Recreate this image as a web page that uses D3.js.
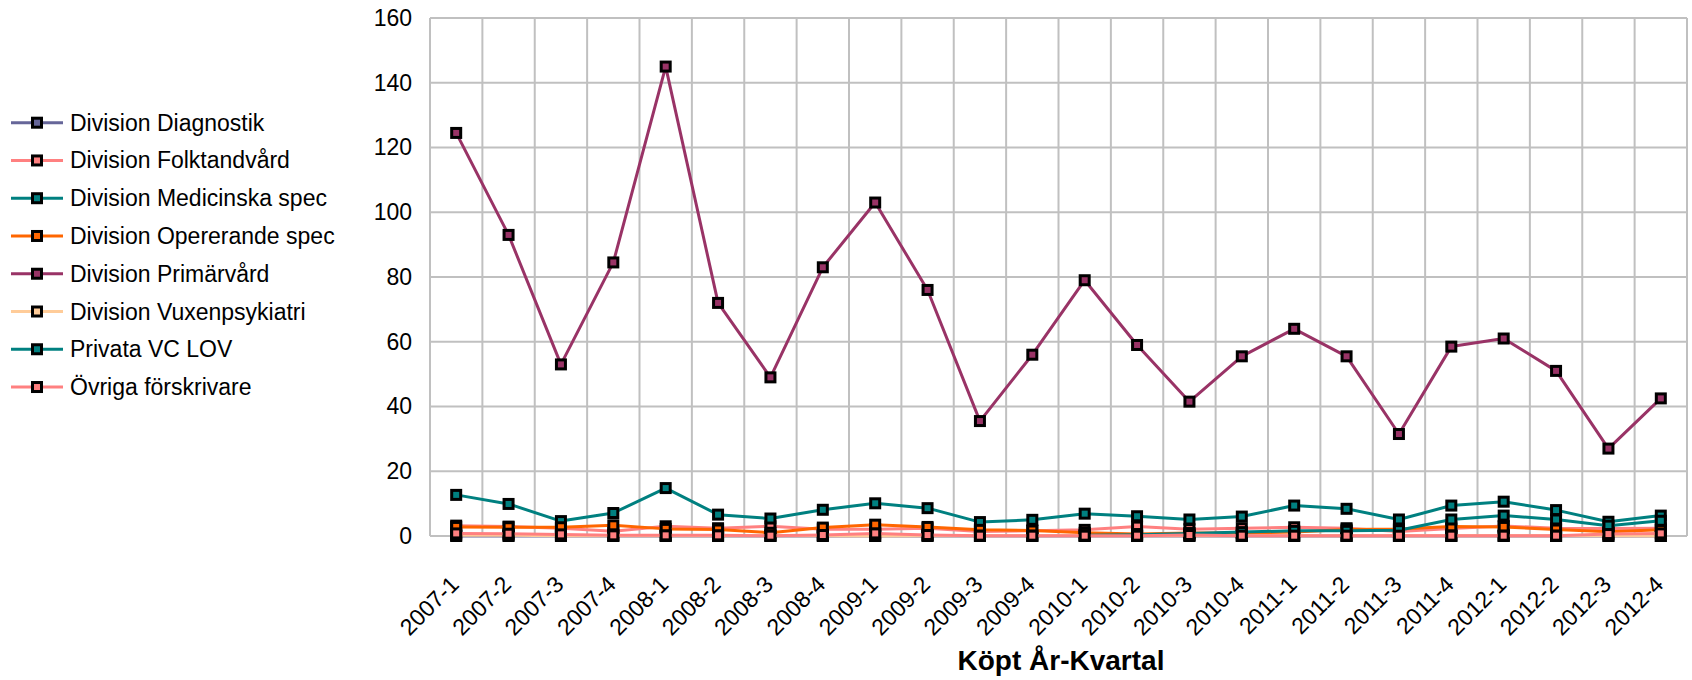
<!DOCTYPE html>
<html>
<head>
<meta charset="utf-8">
<script src="https://cdn.jsdelivr.net/npm/d3@7"></script>
<style>
  html, body { margin: 0; padding: 0; background: #fff; }
  svg { display: block; font-family: "Liberation Sans", Arial, sans-serif; }
</style>
</head>
<body>
<svg id="chart" width="1692" height="680"></svg>
<script>
const categories = ["2007-1","2007-2","2007-3","2007-4","2008-1","2008-2","2008-3","2008-4",
  "2009-1","2009-2","2009-3","2009-4","2010-1","2010-2","2010-3","2010-4",
  "2011-1","2011-2","2011-3","2011-4","2012-1","2012-2","2012-3","2012-4"];

const diagnostik   = [0,0,0,0,0,0,0,0,0,0,0,0,0,0,0,0,0,0,0,0,0,0,0,0];
const folktandvard = [3.2,2.9,2.4,1.5,3.0,2.4,3.0,2.1,2.1,2.4,1.4,1.6,1.9,2.9,2.1,2.4,2.7,2.4,1.4,2.3,3.1,2.4,2.3,2.4];
const medicinska   = [12.7,9.9,4.6,7.1,14.8,6.6,5.4,8.1,10.1,8.6,4.3,5.0,6.9,6.1,5.1,6.0,9.4,8.4,5.1,9.4,10.6,8.0,4.4,6.3];
const opererande   = [2.8,2.7,2.7,3.3,2.2,2.0,1.0,2.6,3.5,2.8,1.9,1.7,1.0,0.6,0.9,0.9,1.2,2.0,2.2,2.9,2.8,2.0,1.3,1.9];
const primarvard   = [124.5,93,53,84.5,145,72,49,83,103,76,35.5,56,79,59,41.5,55.5,64,55.5,31.5,58.5,61,51,27,42.5];
const vuxenpsyk    = [0.2,0.2,0.1,0.1,0.1,0.1,0.1,0.1,0,0.1,0.1,0.1,0.1,0.1,0.1,0.1,0.1,0.1,0.1,0.1,0.1,0.1,0.1,0];
const privataLOV   = [null,null,null,null,null,null,null,null,null,null,null,null,0.2,0.4,0.8,1.2,1.6,1.6,1.8,5.1,6.3,5.1,3.2,4.7];
const ovriga       = [0.8,0.7,0.5,0.2,0.2,0.2,0.1,0.3,0.8,0.3,0.1,0.1,0.1,0.1,0.3,0.1,0.1,0.1,0.1,0.1,0.1,0.1,0.6,0.8];

const seriesNames  = ["Division Diagnostik","Division Folktandvård","Division Medicinska spec",
  "Division Opererande spec","Division Primärvård","Division Vuxenpsykiatri","Privata VC LOV","Övriga förskrivare"];
const seriesValues = [diagnostik, folktandvard, medicinska, opererande, primarvard, vuxenpsyk, privataLOV, ovriga];
const seriesColors = ["#666699","#ff8080","#008080","#ff6600","#993366","#ffcc99","#008080","#ff8080"];
const yTicks = [0,20,40,60,80,100,120,140,160];
const xTitle = "Köpt År-Kvartal";

const svg = d3.select("#chart");
const plot = {left: 430, right: 1687, top: 18, bottom: 536};

const x = d3.scaleBand().domain(categories).range([plot.left, plot.right]).padding(0);
const y = d3.scaleLinear().domain([0,160]).range([plot.bottom, plot.top]);

// gridlines
const grid = svg.append("g");
grid.selectAll("line.h").data(yTicks).join("line")
  .attr("x1", plot.left).attr("x2", plot.right)
  .attr("y1", d => y(d)).attr("y2", d => y(d))
  .attr("stroke", "#c0c0c0").attr("stroke-width", 2);
const vb = categories.map(c => x(c)).concat([plot.right]);
grid.selectAll("line.v").data(vb).join("line")
  .attr("x1", d => d).attr("x2", d => d)
  .attr("y1", plot.top).attr("y2", plot.bottom)
  .attr("stroke", "#c0c0c0").attr("stroke-width", 2);

// y axis labels
const yAxis = svg.append("g").attr("transform", `translate(${plot.left - 18},0)`)
  .call(d3.axisLeft(y).tickValues(yTicks).tickSize(0).tickPadding(0));
yAxis.select(".domain").remove();
yAxis.selectAll("text").attr("font-size", 23).attr("fill", "#000")
  .attr("font-family", "Liberation Sans, Arial, sans-serif");

// x axis labels
const xAxis = svg.append("g").attr("transform", `translate(0,${plot.bottom})`)
  .call(d3.axisBottom(x).tickSize(0).tickPadding(0));
xAxis.select(".domain").remove();
xAxis.selectAll("text")
  .attr("font-size", 23).attr("fill", "#000")
  .attr("font-family", "Liberation Sans, Arial, sans-serif")
  .attr("text-anchor", "end")
  .attr("dy", 0)
  .attr("y", 0)
  .attr("transform", "translate(4,50) rotate(-45)");

svg.append("text").attr("x", 1061).attr("y", 670)
  .attr("text-anchor", "middle").attr("font-size", 28).attr("font-weight", "bold")
  .text(xTitle);

// series
const line = d3.line()
  .defined(d => d.v !== null)
  .x(d => x(d.c) + x.bandwidth()/2)
  .y(d => y(d.v));

const ms = 9;
seriesValues.forEach((vals, i) => {
  const pts = categories.map((c, j) => ({c, v: vals[j]}));
  const g = svg.append("g");
  g.append("path").datum(pts).attr("d", line)
    .attr("fill", "none").attr("stroke", seriesColors[i]).attr("stroke-width", 3)
    .attr("stroke-linejoin", "round");
  g.selectAll("rect").data(pts.filter(d => d.v !== null)).join("rect")
    .attr("x", d => x(d.c) + x.bandwidth()/2 - ms/2)
    .attr("y", d => y(d.v) - ms/2)
    .attr("width", ms).attr("height", ms)
    .attr("fill", seriesColors[i]).attr("stroke", "#000").attr("stroke-width", 3);
});

// legend
const leg = svg.append("g");
seriesNames.forEach((name, i) => {
  const cy = 122.7 + i * 37.76;
  const g = leg.append("g");
  g.append("line").attr("x1", 11).attr("x2", 63).attr("y1", cy).attr("y2", cy)
    .attr("stroke", seriesColors[i]).attr("stroke-width", 3);
  g.append("rect").attr("x", 37 - ms/2).attr("y", cy - ms/2).attr("width", ms).attr("height", ms)
    .attr("fill", seriesColors[i]).attr("stroke", "#000").attr("stroke-width", 3);
  g.append("text").attr("x", 70).attr("y", cy + 8).attr("font-size", 23).text(name);
});
</script>
</body>
</html>
